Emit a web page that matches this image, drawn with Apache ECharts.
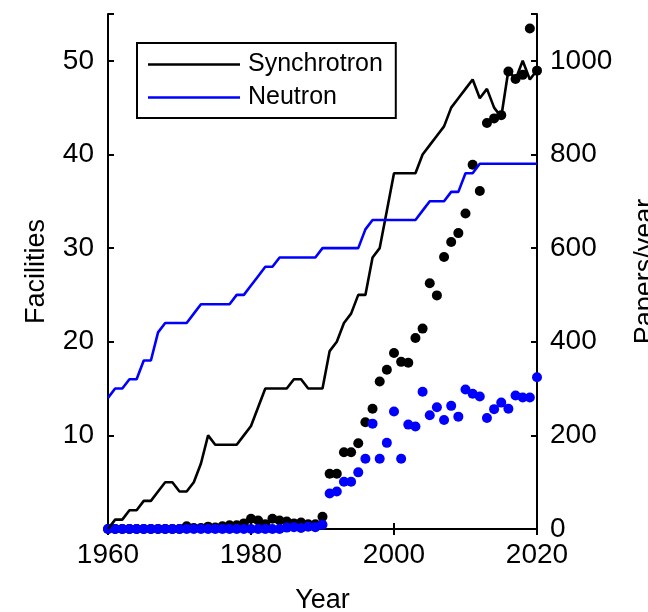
<!DOCTYPE html>
<html><head><meta charset="utf-8">
<script src="https://cdn.jsdelivr.net/npm/echarts@6/dist/echarts.min.js"></script>
<style>html,body{margin:0;padding:0;background:#fff}#c{width:648px;height:612px}</style>
</head><body><div id="c"></div>
<script>
const years = [1960,1961,1962,1963,1964,1965,1966,1967,1968,1969,
  1970,1971,1972,1973,1974,1975,1976,1977,1978,1979,
  1980,1981,1982,1983,1984,1985,1986,1987,1988,1989,
  1990,1991,1992,1993,1994,1995,1996,1997,1998,1999,
  2000,2001,2002,2003,2004,2005,2006,2007,2008,2009,
  2010,2011,2012,2013,2014,2015,2016,2017,2018,2019,2020];
const synchrotronFacilities = [0,1,1,2,2,3,3,4,5,5,
  4,4,5,7,10,9,9,9,9,10,
  11,13,15,15,15,15,16,16,15,15,
  15,19,20,22,23,25,25,29,30,34,
  38,38,38,38,40,41,42,43,45,46,
  47,48,46,47,45,44,49,48,50,48,49];
const neutronFacilities = [14,15,15,16,16,18,18,21,22,22,
  22,22,23,24,24,24,24,24,25,25,
  26,27,28,28,29,29,29,29,29,29,
  30,30,30,30,30,30,32,33,33,33,
  33,33,33,33,34,35,35,35,36,36,
  38,38,39,39,39,39,39,39,39,39,39];
const synchrotronPapers = [0,0,0,0,0,0,0,0,0,0,
  0,6,2,2,5,3,6,8,8,12,
  22,18,10,22,18,16,12,14,10,10,
  26,118,118,164,164,183,228,257,315,340,
  376,357,355,408,428,525,499,581,613,632,
  674,778,722,867,877,884,977,961,970,1069,979];
const neutronPapers = [0,0,0,0,0,0,0,0,0,0,
  0,0,0,0,0,0,0,0,0,0,
  0,0,0,0,0,3,4,2,5,4,
  9,76,80,101,101,121,150,225,150,184,
  251,150,223,219,293,243,260,233,263,240,
  298,289,283,237,256,270,257,285,281,281,324];
const xTicks = [1960,1980,2000,2020];
const leftTicks = [10,20,30,40,50];
const rightTicks = [0,200,400,600,800,1000];

const FONT = 'Liberation Sans, Arial, Helvetica, sans-serif';
const BLUE = '#0000ff';
const pair = (a) => years.map((y, i) => [y, a[i]]);

const chart = echarts.init(document.getElementById('c'), null, {renderer: 'canvas'});
const axisLine = {show: true, lineStyle: {color: '#000', width: 2}};
const tick = {show: true, inside: true, length: 6, lineStyle: {color: '#000', width: 2}};
chart.setOption({
  backgroundColor: '#fff',
  animation: false,
  grid: {left: 108, right: 111, top: 14, bottom: 83, containLabel: false, outerBoundsMode: 'none'},
  legend: {
    data: [{name: 'Synchrotron', icon: 'rect'}, {name: 'Neutron', icon: 'rect'}],
    left: 137, top: 43, orient: 'vertical',
    backgroundColor: '#fff',
    borderColor: '#000', borderWidth: 2,
    padding: [8, 13, 7, 11],
    itemGap: 6, itemWidth: 92, itemHeight: 2.6,
    textStyle: {fontFamily: FONT, fontSize: 25, color: '#000', lineHeight: 27, padding: [0, 0, 0, 3]}
  },
  xAxis: [{
    type: 'value', min: 1960, max: 2020, interval: 20,
    name: 'Year', nameLocation: 'middle', nameGap: 58,
    nameTextStyle: {fontFamily: FONT, fontSize: 27, color: '#000'},
    axisLine: axisLine, axisTick: tick, splitLine: {show: false},
    axisLabel: {fontFamily: FONT, fontSize: 28, color: '#000', margin: 12,
      formatter: v => xTicks.includes(v) ? String(v) : ''}
  }, {
    type: 'value', min: 1960, max: 2020, interval: 20, position: 'top',
    axisLine: axisLine, axisTick: tick, splitLine: {show: false},
    axisLabel: {show: false}
  }],
  yAxis: [{
    type: 'value', min: 0, max: 55, interval: 10, position: 'left',
    name: 'Facilities', nameLocation: 'middle', nameGap: 58,
    nameTextStyle: {fontFamily: FONT, fontSize: 27, color: '#000'},
    axisLine: axisLine, axisTick: tick, splitLine: {show: false},
    axisLabel: {fontFamily: FONT, fontSize: 28, color: '#000', margin: 14,
      formatter: v => leftTicks.includes(v) ? String(v) : ''}
  }, {
    type: 'value', min: 0, max: 1100, interval: 200, position: 'right',
    name: 'Papers/year', nameLocation: 'middle', nameGap: 95,
    nameTextStyle: {fontFamily: FONT, fontSize: 27, color: '#000'},
    axisLine: axisLine, axisTick: tick, splitLine: {show: false},
    axisLabel: {fontFamily: FONT, fontSize: 28, color: '#000', margin: 13,
      formatter: v => rightTicks.includes(v) ? String(v) : ''}
  }],
  series: [
    {name: 'Synchrotron', type: 'line', yAxisIndex: 0, data: pair(synchrotronFacilities),
     symbol: 'none', lineStyle: {color: '#000', width: 2.6}, itemStyle: {color: '#000'}},
    {name: 'Neutron', type: 'line', yAxisIndex: 0, data: pair(neutronFacilities),
     symbol: 'none', lineStyle: {color: BLUE, width: 2.6}, itemStyle: {color: BLUE}},
    {name: 'Synchrotron papers', type: 'scatter', yAxisIndex: 1, data: pair(synchrotronPapers),
     symbolSize: 10, itemStyle: {color: '#000', opacity: 1}},
    {name: 'Neutron papers', type: 'scatter', yAxisIndex: 1, data: pair(neutronPapers),
     symbolSize: 10, itemStyle: {color: BLUE, opacity: 1}}
  ]
});
</script></body></html>
